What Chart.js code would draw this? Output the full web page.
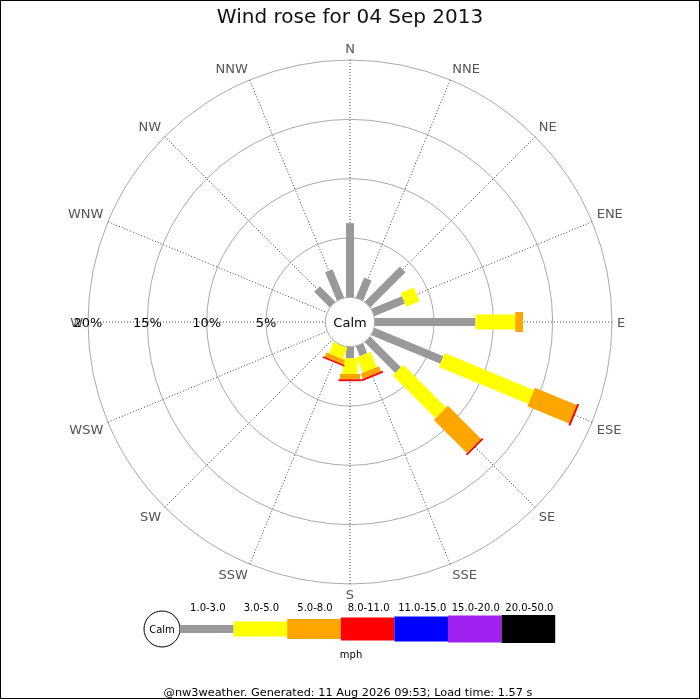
<!DOCTYPE html>
<html>
<head>
<meta charset="utf-8">
<title>Wind rose</title>
<script src="https://cdn.jsdelivr.net/npm/chart.js@4.4.0/dist/chart.umd.min.js"></script>
<style>
  html, body { margin: 0; padding: 0; background: #fff; }
  canvas { display: block; }
</style>
</head>
<body>
<canvas id="rose" width="700" height="700"></canvas>
<script>
// directions clockwise from north
const directions = ['N', 'NNE', 'NE', 'ENE', 'E', 'ESE', 'SE', 'SSE', 'S', 'SSW', 'SW', 'WSW', 'W', 'WNW', 'NW', 'NNW'];
const speedBands = ['1.0-3.0', '3.0-5.0', '5.0-8.0', '8.0-11.0', '11.0-15.0', '15.0-20.0', '20.0-50.0'];
const bandColors = ['#999999', '#ffff00', '#ffa500', '#ff0000', '#0000ff', '#a020f0', '#000000'];

// % of time per direction, one array per speed band (mph)
const band1to3 = [6.25, 1.85, 4.2, 2.8, 8.5, 6.3, 3.65, 0.9, 0.97, 0, 0, 0, 0, 0, 1.85, 2.6];
const band3to5 = [0, 0, 0, 1.2, 3.35, 8.15, 5.1, 1.4, 1.33, 1.05, 0, 0, 0, 0, 0, 0];
const band5to8 = [0, 0, 0, 0, 0.65, 3.8, 3.95, 0.46, 0.45, 0.4, 0, 0, 0, 0, 0, 0];
const band8to11 = [0, 0, 0, 0, 0, 0.17, 0.15, 0.16, 0.16, 0.13, 0, 0, 0, 0, 0, 0];
const band11to15 = [0, 0, 0, 0, 0, 0, 0, 0, 0, 0, 0, 0, 0, 0, 0, 0];
const band15to20 = [0, 0, 0, 0, 0, 0, 0, 0, 0, 0, 0, 0, 0, 0, 0, 0];
const band20to50 = [0, 0, 0, 0, 0, 0, 0, 0, 0, 0, 0, 0, 0, 0, 0, 0];

const tickValues = [5, 10, 15, 20];

const bandData = [band1to3, band3to5, band5to8, band8to11, band11to15, band15to20, band20to50];
const barWidths = [8, 15, 20, 23, 25, 27, 28];
const FONT = 'DejaVu Sans';

// the calm circle takes up the middle, so the scale starts below zero
const RMIN = -2.08;

const roseBars = {
  id: 'roseBars',
  beforeDraw(chart) {
    const ctx = chart.ctx;
    ctx.save();
    ctx.fillStyle = '#fff';
    ctx.fillRect(0, 0, chart.width, chart.height);
    ctx.restore();
  },
  afterDatasetsDraw(chart) {
    const ctx = chart.ctx;
    const r = chart.scales.r;
    ctx.save();

    // stacked bars, one thick line per band
    ctx.lineCap = 'butt';
    directions.forEach((d, i) => {
      let cum = 0;
      chart.data.datasets.forEach((ds, b) => {
        const v = ds.data[i];
        if (!v) return;
        const p0 = r.getPointPosition(i, r.getDistanceFromCenterForValue(cum));
        const p1 = r.getPointPosition(i, r.getDistanceFromCenterForValue(cum + v));
        ctx.strokeStyle = bandColors[b];
        ctx.lineWidth = barWidths[b];
        ctx.beginPath();
        ctx.moveTo(p0.x, p0.y);
        ctx.lineTo(p1.x, p1.y);
        ctx.stroke();
        cum += v;
      });
    });

    // calm circle
    const calmR = r.getDistanceFromCenterForValue(0);
    ctx.beginPath();
    ctx.arc(r.xCenter, r.yCenter, calmR, 0, Math.PI * 2);
    ctx.fillStyle = '#fff';
    ctx.fill();
    ctx.strokeStyle = '#aaa';
    ctx.lineWidth = 1;
    ctx.stroke();
    ctx.fillStyle = '#000';
    ctx.font = '13px "' + FONT + '"';
    ctx.textAlign = 'center';
    ctx.textBaseline = 'middle';
    ctx.fillText('Calm', r.xCenter, r.yCenter + 1.5);

    // direction labels, placed like chart.js point labels
    ctx.fillStyle = '#555';
    directions.forEach((d, i) => {
      const p = r.getPointPosition(i, r.drawingArea + 5);
      const ang = i * 360 / directions.length;
      let dy = 0;
      ctx.textAlign = (ang === 0 || ang === 180) ? 'center' : (ang < 180 ? 'left' : 'right');
      if (ang === 90 || ang === 270) { ctx.textBaseline = 'middle'; dy = 1.5; }
      else if (ang > 270 || ang < 90) { ctx.textBaseline = 'bottom'; dy = 1; }
      else ctx.textBaseline = 'top';
      ctx.fillText(d, p.x, p.y + dy);
    });

    // tick labels along the west axis
    ctx.fillStyle = '#000';
    ctx.textAlign = 'center';
    ctx.textBaseline = 'middle';
    const west = directions.indexOf('W');
    tickValues.forEach(v => {
      const p = r.getPointPosition(west, r.getDistanceFromCenterForValue(v));
      ctx.fillText(v + '%', p.x, p.y + 1.5);
    });

    ctx.restore();
  },
  afterDraw(chart) {
    const ctx = chart.ctx;
    ctx.save();

    // legend
    const cy = 629;
    ctx.beginPath();
    ctx.arc(162, cy, 18, 0, Math.PI * 2);
    ctx.fillStyle = '#fff';
    ctx.fill();
    ctx.strokeStyle = '#000';
    ctx.lineWidth = 1;
    ctx.stroke();
    ctx.fillStyle = '#000';
    ctx.font = '10px "' + FONT + '"';
    ctx.textAlign = 'center';
    ctx.textBaseline = 'middle';
    ctx.fillText('Calm', 162, cy + 1.5);

    const boxW = 53.6;
    speedBands.forEach((label, b) => {
      const x = 180 + b * boxW;
      const h = barWidths[b];
      ctx.fillStyle = bandColors[b];
      ctx.fillRect(x, cy - h / 2, boxW, h);
      ctx.fillStyle = '#000';
      ctx.fillText(label, x + boxW / 2 + 1, 608);
    });
    ctx.fillText('mph', 351, 655);

    // footer
    ctx.font = '11.3px "' + FONT + '"';
    ctx.fillText('@nw3weather. Generated: 11 Aug 2026 09:53; Load time: 1.57 s', 348, 693.5);

    // frame
    ctx.strokeStyle = '#000';
    ctx.lineWidth = 1;
    ctx.strokeRect(0.5, 0.5, 699, 698);
    ctx.restore();
  }
};

Chart.defaults.font.family = FONT;

new Chart(document.getElementById('rose'), {
  type: 'radar',
  data: {
    labels: directions,
    datasets: bandData.map((data, b) => ({
      label: speedBands[b],
      data: data,
      showLine: false,
      fill: false,
      pointRadius: 0,
      pointHitRadius: 0,
      borderColor: bandColors[b],
      backgroundColor: bandColors[b]
    }))
  },
  options: {
    responsive: false,
    animation: false,
    events: [],
    layout: { padding: { left: 88, right: 88, top: 0, bottom: 116 } },
    plugins: {
      legend: { display: false },
      tooltip: { enabled: false },
      title: {
        display: true,
        text: 'Wind rose for 04 Sep 2013',
        color: '#111',
        font: { size: 20, weight: 'normal', family: FONT, lineHeight: 1.2 },
        padding: { top: 6, bottom: 30 }
      }
    },
    scales: {
      r: {
        min: RMIN,
        max: 20,
        ticks: { display: false },
        pointLabels: { display: false },
        grid: { circular: true, color: '#aaaaaa', lineWidth: 1 },
        angleLines: { color: '#444444', lineWidth: 1, borderDash: [1, 2] },
        afterBuildTicks: (scale) => {
          scale.ticks = tickValues.map(v => ({ value: v }));
        }
      }
    }
  },
  plugins: [roseBars]
});
</script>
</body>
</html>
